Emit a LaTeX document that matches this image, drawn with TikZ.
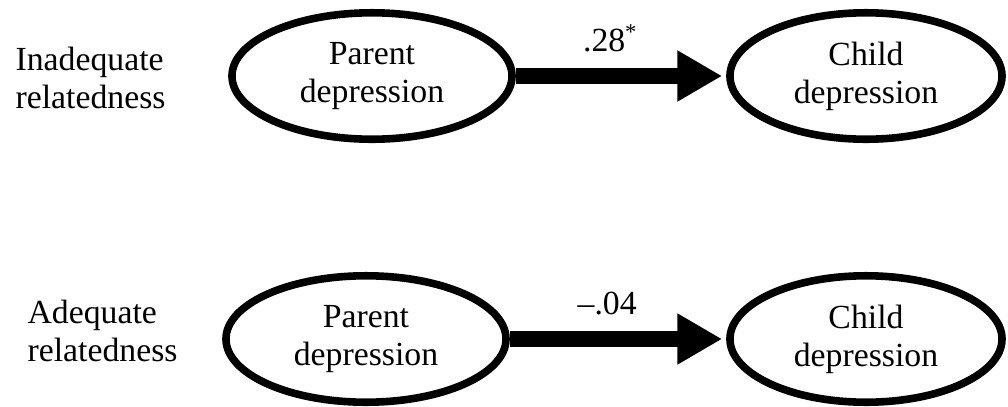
\documentclass[tikz,border=0pt]{standalone}
\usepackage{fontspec}
\setmainfont{Liberation Serif}
\usetikzlibrary{arrows.meta,positioning,shapes.geometric}

\begin{document}
\begin{tikzpicture}[
  x=0.0125cm, y=-0.0125cm,
  every node/.style={font=\fontsize{12}{13.5}\selectfont},
  group/.style={align=left, anchor=west, inner sep=0pt},
  latent/.style={ellipse, draw, line width=2.7pt, align=center, minimum width=3.5cm, minimum height=1.58cm, inner sep=0pt},
  effect/.style={-{Triangle[length=0.56cm, width=0.6cm]}, line width=0.19cm, shorten >=0.05cm},
  coef/.style={above=0.2cm, inner sep=0pt}
]
\useasboundingbox (0,0) rectangle (1008,406);

% inadequate relatedness
\node[group] (g1) at (15,78) {Inadequate\\relatedness};
\node[latent] (p1) at (372,76) {Parent\\depression};
\node[latent, minimum width=3.4cm] (c1) at (866,76) {Child\\depression};
\draw[effect] (p1) -- node[coef, pos=0.45] {.28\textsuperscript{*}} (c1);

% adequate relatedness
\node[group] (g2) at (27,331) {Adequate\\relatedness};
\node[latent] (p2) at (366,339) {Parent\\depression};
\node[latent, minimum width=3.4cm] (c2) at (866,339) {Child\\depression};
\draw[effect] (p2) -- node[coef, pos=0.45] {\textendash.04} (c2);
\end{tikzpicture}
\end{document}
